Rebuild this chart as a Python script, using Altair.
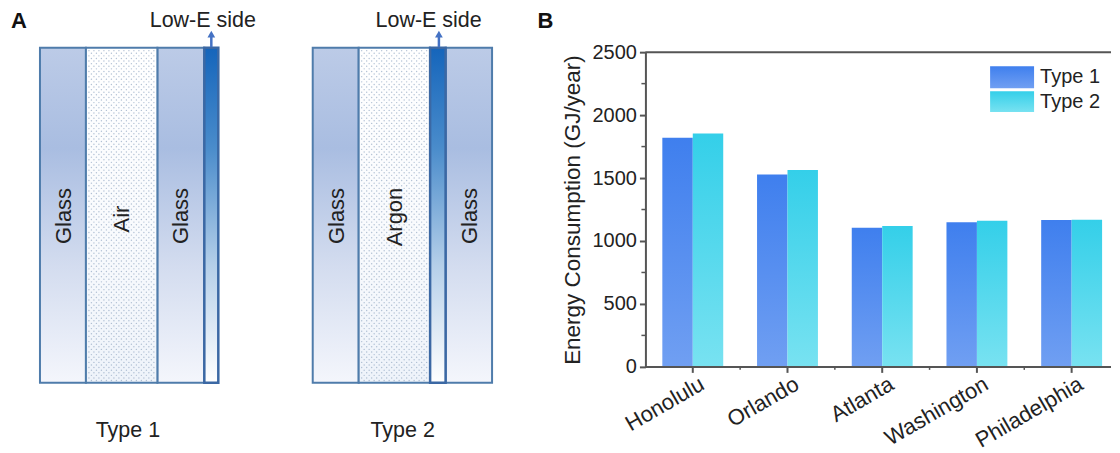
import altair as alt
import numpy as np
import pandas as pd

FONT = "Liberation Sans"

# ---------- bar chart data ----------
cities = ["Honolulu", "Orlando", "Atlanta", "Washington", "Philadelphia"]
type1 = [1820, 1529, 1105, 1148, 1167]
type2 = [1854, 1563, 1119, 1161, 1169]
types = ["Type 1", "Type 2"]
y_major = [0, 500, 1000, 1500, 2000, 2500]
y_minor = [250, 750, 1250, 1750, 2250]

# ---------- schematic data (layer widths of each glazing) ----------
t1_layers = ["Glass", "Air", "Glass", "Low-E"]
t1_widths = [46, 71.5, 47, 14]
t1_start = 40
t2_layers = ["Glass", "Argon", "Low-E", "Glass"]
t2_widths = [46, 71.5, 15.5, 46.5]
t2_start = 313
layer_top, layer_bottom = 47.5, 383


def grad(stops):
    return alt.LinearGradient(
        gradient="linear", x1=0, x2=0, y1=0, y2=1,
        stops=[alt.GradientStop(color=c, offset=o) for o, c in stops],
    )


glass_fill = grad([(0, "#bccbe7"), (0.3, "#a9bde1"), (0.65, "#d3dcef"), (1, "#f4f6fc")])
gas_fill = grad([(0, "#ffffff"), (0.6, "#f8fafd"), (1, "#eef3fa")])
lowe_fill = grad([(0, "#1565bb"), (0.3, "#4a8ccb"), (0.65, "#b5cfe9"), (1, "#ffffff")])
blue_fill = grad([(0, "#3f7fee"), (1, "#709ff2")])
cyan_fill = grad([(0, "#34cfe9"), (1, "#78e2f1")])


def layers_frame(names, widths, start):
    edges = np.cumsum([start] + widths)
    return pd.DataFrame({
        "name": names, "x0": edges[:-1], "x1": edges[1:],
        "y0": layer_top, "y1": layer_bottom,
    })


layers_df = pd.concat([layers_frame(t1_layers, t1_widths, t1_start),
                       layers_frame(t2_layers, t2_widths, t2_start)], ignore_index=True)

X = alt.Scale(domain=[8, 646])
Y = alt.Scale(domain=[8, 445], reverse=True)


def rects(name_test, fill, stroke, sw):
    return (
        alt.Chart(layers_df).transform_filter(name_test)
        .mark_rect(fill=fill, stroke=stroke, strokeWidth=sw)
        .encode(x=alt.X("x0:Q", scale=X, axis=None), x2="x1:Q",
                y=alt.Y("y0:Q", scale=Y, axis=None), y2="y1:Q")
    )


# dot texture for the gas gaps
gas = layers_df[layers_df.name.isin(["Air", "Argon"])]
dots = []
for _, r in gas.iterrows():
    for j, yy in enumerate(np.arange(r.y0 + 3, r.y1 - 1, 2.6)):
        for xx in np.arange(r.x0 + 3 + (j % 2) * 2.5, r.x1 - 2, 5):
            dots.append((xx, yy))
dots_df = pd.DataFrame(dots, columns=["x", "y"])

dot_layer = alt.Chart(dots_df).mark_point(
    filled=True, size=2, color="#9fb2c9", opacity=0.8
).encode(x=alt.X("x:Q", scale=X, axis=None), y=alt.Y("y:Q", scale=Y, axis=None))

# arrows
arrow_df = pd.DataFrame({"x": [211.5, 439.3], "y0": [47, 47], "y1": [36, 36], "tip": [34, 34]})
arrow_shaft = alt.Chart(arrow_df).mark_rule(color="#4472c4", strokeWidth=2.5).encode(
    x=alt.X("x:Q", scale=X, axis=None), y=alt.Y("y0:Q", scale=Y, axis=None), y2="y1:Q")
arrow_head = alt.Chart(arrow_df).mark_point(
    shape="triangle-up", filled=True, size=60, color="#4472c4", opacity=1
).encode(x=alt.X("x:Q", scale=X, axis=None), y=alt.Y("tip:Q", scale=Y, axis=None))

# labels
horiz = pd.DataFrame({
    "t": ["Low-E side", "Low-E side", "Type 1", "Type 2"],
    "x": [203, 429, 128, 403], "y": [21, 21, 431, 431],
})
vert = pd.DataFrame({
    "t": ["Glass", "Air", "Glass", "Glass", "Argon", "Glass"],
    "x": [64.5, 122.5, 181.5, 337.5, 395.5, 470.5], "y": [216, 219, 216, 216, 217, 216],
})
bold = pd.DataFrame({"t": ["A", "B"], "x": [19, 546], "y": [21, 21]})

enc = dict(x=alt.X("x:Q", scale=X, axis=None), y=alt.Y("y:Q", scale=Y, axis=None), text="t:N")
horiz_text = alt.Chart(horiz).mark_text(font=FONT, fontSize=21.5, color="#222222").encode(**enc)
vert_text = alt.Chart(vert).mark_text(font=FONT, fontSize=22, angle=270, color="#222222").encode(**enc)
bold_text = alt.Chart(bold).mark_text(font=FONT, fontSize=22, fontWeight="bold", color="#111111").encode(**enc)

panel_a = alt.layer(
    rects("datum.name == 'Glass'", glass_fill, "#4f7cab", 2),
    rects("datum.name == 'Air' || datum.name == 'Argon'", gas_fill, "#4f7cab", 2),
    dot_layer,
    rects("datum.name == 'Low-E'", lowe_fill, "#3b68a4", 2.5),
    arrow_shaft, arrow_head, horiz_text, vert_text, bold_text,
).properties(width=638, height=437)

# ---------- panel B ----------
bars_df = pd.DataFrame({
    "city": cities * 2,
    "type": [types[0]] * 5 + [types[1]] * 5,
    "value": type1 + type2,
})

XB = alt.Scale(domain=cities, paddingInner=0.357, paddingOuter=0.1785, range=[0, 474])
YB = alt.Scale(domain=[0, 2500], range=[359, 44], nice=False)
OFF = alt.Scale(domain=types, paddingInner=0, paddingOuter=0)

y_axis = alt.Axis(
    values=y_major, format="d", title="Energy Consumption (GJ/year)", titleFont=FONT, titleFontSize=22.5,
    titleFontWeight="normal", titleColor="#222222", titleX=-61,
    labelFontSize=20, labelFont=FONT, labelColor="#222222", labelPadding=3,
    domainColor="#555555", domainWidth=2, tickColor="#555555", tickWidth=2, tickSize=6,
    grid=False,
)


def bar_layer(name, fill):
    return (
        alt.Chart(bars_df).transform_filter(alt.datum.type == name)
        .mark_bar(fill=fill)
        .encode(
            x=alt.X("city:N", sort=cities, scale=XB, axis=None),
            xOffset=alt.XOffset("type:N", scale=OFF, sort=types),
            y=alt.Y("value:Q", scale=YB, axis=y_axis),
        )
    )


frame_lines = alt.Chart(pd.DataFrame({"v": [0, 2500]})).mark_rule(color="#555555", strokeWidth=2).encode(
    y=alt.Y("v:Q", scale=YB, axis=y_axis))

minor_y = alt.Chart(pd.DataFrame({"v": y_minor})).mark_rule(color="#555555", strokeWidth=1.5).encode(
    x=alt.value(-4), x2=alt.value(0), y=alt.Y("v:Q", scale=YB, axis=y_axis))

step = 474 / 5
minor_x = alt.Chart(pd.DataFrame({"px": [step * i for i in range(1, 5)]})).mark_rule(
    color="#555555", strokeWidth=1.5
).encode(x=alt.X("px:Q", scale=None, axis=None), y=alt.value(359), y2=alt.value(362))

major_x = alt.Chart(pd.DataFrame({"city": cities})).mark_rule(
    color="#555555", strokeWidth=2
).encode(x=alt.X("city:N", sort=cities, scale=XB, axis=None), y=alt.value(359), y2=alt.value(365))

city_labels = alt.Chart(pd.DataFrame({"city": cities})).mark_text(
    font=FONT, fontSize=22, angle=330, align="right", baseline="middle", color="#222222", dx=11
).encode(
    x=alt.X("city:N", sort=cities, scale=XB, axis=None),
    y=alt.value(380),
    text="city:N",
)

legend_df = pd.DataFrame({"t": types, "x": [345, 345], "x2": [389, 389],
                          "y": [58, 83], "y2": [80, 104], "tx": [395, 395], "ty": [69, 94]})


def legend_swatch(name, fill):
    return alt.Chart(legend_df).transform_filter(alt.datum.t == name).mark_rect(fill=fill).encode(
        x=alt.X("x:Q", scale=None, axis=None), x2="x2:Q",
        y=alt.Y("y:Q", scale=None, axis=None), y2="y2:Q")


legend_text = alt.Chart(legend_df).mark_text(
    font=FONT, fontSize=20, align="left", color="#222222"
).encode(x=alt.X("tx:Q", scale=None, axis=None), y=alt.Y("ty:Q", scale=None, axis=None), text="t:N")

panel_b = alt.layer(
    bar_layer("Type 1", blue_fill),
    bar_layer("Type 2", cyan_fill),
    frame_lines, minor_y, minor_x, major_x, city_labels,
    legend_swatch("Type 1", blue_fill), legend_swatch("Type 2", cyan_fill), legend_text,
).properties(width=466, height=359)

chart = (
    alt.hconcat(panel_a, panel_b, spacing=0, bounds="flush")
    .properties(padding=0, background="white")
    .configure_view(stroke=None)
)

chart.save("out.html", embed_options={"renderer": "svg", "actions": False})
